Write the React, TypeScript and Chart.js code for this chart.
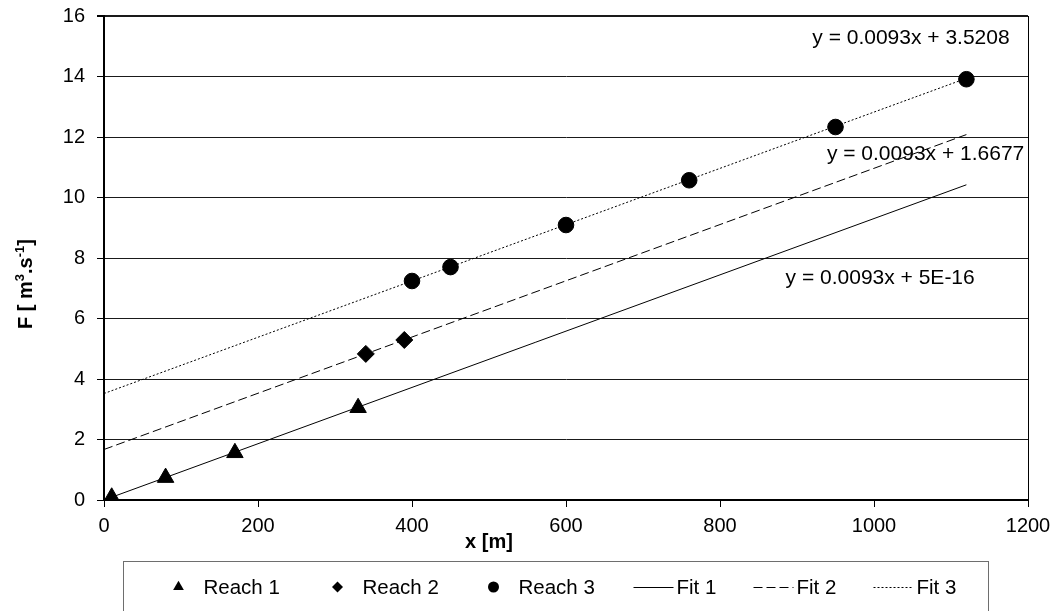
import React, { useEffect, useRef } from "react";
import { Chart, registerables } from "chart.js";

Chart.register(...registerables);

// ---- data ----
const reach1X = [10, 80, 170, 330];
const reach1Y = [0.09, 0.74, 1.56, 3.05];
const reach2X = [340, 390];
const reach2Y = [4.83, 5.29];
const reach3X = [400, 450, 600, 760, 950, 1120];
const reach3Y = [7.24, 7.7, 9.09, 10.57, 12.33, 13.91];

const fit1X = [0, 1120];
const fit1Y = [0, 10.42];
const fit2X = [0, 1120];
const fit2Y = [1.67, 12.08];
const fit3X = [0, 1120];
const fit3Y = [3.52, 13.94];

const equationTexts = ["y = 0.0093x + 5E-16", "y = 0.0093x + 1.6677", "y = 0.0093x + 3.5208"];
const equationX = [1008, 1067, 1048];
const equationY = [7.34, 11.44, 15.27];

const legendLabels = ["Reach 1", "Reach 2", "Reach 3", "Fit 1", "Fit 2", "Fit 3"];

const xMin = 0;
const xMax = 1200;
const xStep = 200;
const yMin = 0;
const yMax = 16;
const yStep = 2;

const xTitle = "x [m]";

const FONT = "'Liberation Sans', Arial, Helvetica, sans-serif";

function pts(xs: number[], ys: number[]) {
  return xs.map((x, i) => ({ x, y: ys[i] }));
}

const overlayPlugin = {
  id: "overlay",
  afterDatasetsDraw(chart: any) {
    const { ctx, chartArea: ca, scales } = chart;
    const xs = scales.x;
    const ys = scales.y;
    ctx.save();

    // right border of plot area
    ctx.strokeStyle = "#000";
    ctx.lineWidth = 1;
    ctx.setLineDash([]);
    const rx = Math.round(ca.right) + 0.5;
    ctx.beginPath();
    ctx.moveTo(rx, ca.top);
    ctx.lineTo(rx, ca.bottom);
    ctx.stroke();

    // equation labels
    ctx.fillStyle = "#000";
    ctx.font = `21px ${FONT}`;
    ctx.textAlign = "center";
    ctx.textBaseline = "middle";
    equationTexts.forEach((t, i) => {
      ctx.fillText(t, xs.getPixelForValue(equationX[i]), ys.getPixelForValue(equationY[i]));
    });

    // x axis title
    ctx.font = `bold 20px ${FONT}`;
    ctx.textAlign = "center";
    ctx.textBaseline = "alphabetic";
    ctx.fillText(xTitle, (ca.left + ca.right) / 2 - 77, ca.bottom + 48);

    // y axis title with superscripts
    const parts: { t: string; sup: boolean }[] = [
      { t: "F [ m", sup: false },
      { t: "3", sup: true },
      { t: ".s", sup: false },
      { t: "-1", sup: true },
      { t: "]", sup: false },
    ];
    const mainFont = `bold 20px ${FONT}`;
    const supFont = `bold 13px ${FONT}`;
    let total = 0;
    parts.forEach((p) => {
      ctx.font = p.sup ? supFont : mainFont;
      total += ctx.measureText(p.t).width;
    });
    ctx.translate(32, (ca.top + ca.bottom) / 2 + 26);
    ctx.rotate(-Math.PI / 2);
    ctx.textAlign = "left";
    ctx.textBaseline = "alphabetic";
    let cx = -total / 2;
    parts.forEach((p) => {
      ctx.font = p.sup ? supFont : mainFont;
      ctx.fillText(p.t, cx, p.sup ? -8 : 0);
      cx += ctx.measureText(p.t).width;
    });
    ctx.restore();

    // legend box
    ctx.save();
    const boxLeft = 123.5;
    const boxRight = 988.5;
    const boxTop = Math.round(ca.bottom) + 61.5;
    const boxBottom = chart.height + 5;
    ctx.strokeStyle = "#6e6e6e";
    ctx.lineWidth = 1;
    ctx.strokeRect(boxLeft, boxTop, boxRight - boxLeft, boxBottom - boxTop);

    const midY = boxTop + 25.5;
    const baseY = boxTop + 32.5;
    ctx.fillStyle = "#000";
    ctx.strokeStyle = "#000";
    ctx.font = `20.5px ${FONT}`;
    ctx.textAlign = "left";
    ctx.textBaseline = "alphabetic";

    const markerCenters = [55, 214, 370];
    const markerTexts = [80, 239, 395];
    // triangle
    {
      const c = boxLeft + markerCenters[0];
      const r = 6.2;
      ctx.beginPath();
      ctx.moveTo(c, midY - r);
      ctx.lineTo(c + r * 0.866, midY + r * 0.5);
      ctx.lineTo(c - r * 0.866, midY + r * 0.5);
      ctx.closePath();
      ctx.fill();
    }
    // diamond
    {
      const c = boxLeft + markerCenters[1];
      const r = 5.5;
      ctx.beginPath();
      ctx.moveTo(c, midY - r);
      ctx.lineTo(c + r, midY);
      ctx.lineTo(c, midY + r);
      ctx.lineTo(c - r, midY);
      ctx.closePath();
      ctx.fill();
    }
    // circle
    {
      const c = boxLeft + markerCenters[2];
      ctx.beginPath();
      ctx.arc(c, midY, 5.5, 0, Math.PI * 2);
      ctx.fill();
    }
    for (let i = 0; i < 3; i++) {
      ctx.fillText(legendLabels[i], boxLeft + markerTexts[i], baseY);
    }
    const lineStarts = [510, 630, 750];
    const dashes = [[], [9, 4], [2, 2]];
    for (let i = 0; i < 3; i++) {
      const x0 = boxLeft + lineStarts[i];
      ctx.setLineDash(dashes[i]);
      ctx.lineWidth = 1;
      ctx.beginPath();
      ctx.moveTo(x0, Math.round(midY) + 0.5);
      ctx.lineTo(x0 + 40, Math.round(midY) + 0.5);
      ctx.stroke();
      ctx.setLineDash([]);
      ctx.fillText(legendLabels[3 + i], x0 + 43, baseY);
    }
    ctx.restore();
  },
};

export default function App() {
  const canvasRef = useRef<HTMLCanvasElement | null>(null);

  useEffect(() => {
    document.body.style.margin = "0";
    const canvas = canvasRef.current;
    if (!canvas) return;

    const chart = new Chart(canvas, {
      type: "scatter",
      data: {
        datasets: [
          {
            label: legendLabels[0],
            data: pts(reach1X, reach1Y),
            pointStyle: "triangle",
            pointRadius: 9.5,
            backgroundColor: "#000",
            borderColor: "#000",
            borderWidth: 1,
            showLine: false,
          },
          {
            label: legendLabels[1],
            data: pts(reach2X, reach2Y),
            pointStyle: "rectRot",
            pointRadius: 8.5,
            backgroundColor: "#000",
            borderColor: "#000",
            borderWidth: 1,
            showLine: false,
          },
          {
            label: legendLabels[2],
            data: pts(reach3X, reach3Y),
            pointStyle: "circle",
            pointRadius: 7.8,
            backgroundColor: "#000",
            borderColor: "#000",
            borderWidth: 1,
            showLine: false,
          },
          {
            label: legendLabels[3],
            data: pts(fit1X, fit1Y),
            showLine: true,
            pointRadius: 0,
            borderColor: "#000",
            borderWidth: 1,
            backgroundColor: "#000",
          },
          {
            label: legendLabels[4],
            data: pts(fit2X, fit2Y),
            showLine: true,
            pointRadius: 0,
            borderColor: "#000",
            borderWidth: 1,
            borderDash: [9, 4],
            backgroundColor: "#000",
          },
          {
            label: legendLabels[5],
            data: pts(fit3X, fit3Y),
            showLine: true,
            pointRadius: 0,
            borderColor: "#000",
            borderWidth: 1,
            borderDash: [2, 2],
            backgroundColor: "#000",
          },
        ],
      },
      options: {
        responsive: false,
        animation: false,
        events: [],
        layout: { padding: { left: 0, top: 16, right: 32, bottom: 0 } },
        plugins: {
          legend: { display: false },
          tooltip: { enabled: false },
          title: { display: false },
        },
        scales: {
          x: {
            type: "linear",
            min: xMin,
            max: xMax,
            ticks: {
              stepSize: xStep,
              padding: 7,
              color: "#000",
              font: { family: FONT, size: 20 },
              maxRotation: 0,
              callback: (v: any) => String(v),
            },
            grid: {
              drawOnChartArea: false,
              drawTicks: true,
              tickLength: 7,
              color: "#000",
              tickColor: "#000",
            },
            border: { display: true, color: "#000", width: 2 },
            afterFit: (s: any) => {
              s.height = 111;
              s.paddingLeft = 0;
              s.paddingRight = 0;
            },
          },
          y: {
            type: "linear",
            min: yMin,
            max: yMax,
            ticks: {
              stepSize: yStep,
              padding: 12,
              color: "#000",
              font: { family: FONT, size: 20 },
              callback: (v: any) => String(v),
            },
            grid: {
              drawTicks: true,
              tickLength: 7,
              color: "#1a1a1a",
              tickColor: "#000",
              lineWidth: (c: any) => (c.tick && c.tick.value === yMax ? 2 : 1),
            },
            border: { display: true, color: "#000", width: 2 },
            afterFit: (s: any) => {
              s.width = 104;
              s.paddingTop = 0;
              s.paddingBottom = 0;
            },
          },
        },
      },
      plugins: [overlayPlugin],
    } as any);

    return () => {
      chart.destroy();
    };
  }, []);

  return (
    <div style={{ width: 1060, height: 611, background: "#fff" }}>
      <canvas ref={canvasRef} width={1060} height={611} style={{ display: "block" }} />
    </div>
  );
}
